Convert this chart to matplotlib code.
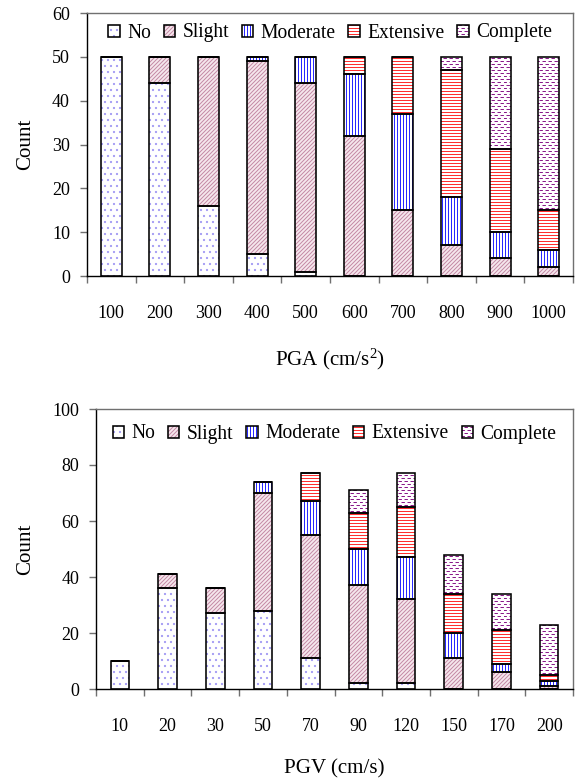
import numpy as np
import matplotlib
matplotlib.use("Agg")
import matplotlib.pyplot as plt
import matplotlib.hatch as mhatch
from matplotlib.path import Path
from matplotlib.legend_handler import HandlerTuple

# ---------------- data ----------------
pga_labels = ['100', '200', '300', '400', '500', '600', '700', '800', '900', '1000']
pga_no = [50, 44, 16, 5, 1, 0, 0, 0, 0, 0]
pga_slight = [0, 6, 34, 44, 43, 32, 15, 7, 4, 2]
pga_moderate = [0, 0, 0, 1, 6, 14, 22, 11, 6, 4]
pga_extensive = [0, 0, 0, 0, 0, 4, 13, 29, 19, 9]
pga_complete = [0, 0, 0, 0, 0, 0, 0, 3, 21, 35]

pgv_labels = ['10', '20', '30', '50', '70', '90', '120', '150', '170', '200']
pgv_no = [10, 36, 27, 28, 11, 2, 2, 0, 0, 0]
pgv_slight = [0, 5, 9, 42, 44, 35, 30, 11, 6, 1]
pgv_moderate = [0, 0, 0, 4, 12, 13, 15, 9, 3, 2]
pgv_extensive = [0, 0, 0, 0, 10, 13, 18, 14, 12, 2]
pgv_complete = [0, 0, 0, 0, 0, 8, 12, 14, 13, 18]

state_names = ['No', 'Slight', 'Moderate', 'Extensive', 'Complete']


# ------------- custom dashed hatch (replaces '*') -------------
class DashHatch(mhatch.HatchPatternBase):
    def __init__(self, hatch, density):
        self.num_rows = int(hatch.count('*') * density)
        self.num_cols = max(self.num_rows // 2, 1) if self.num_rows else 0
        self.num_vertices = self.num_rows * self.num_cols * 2

    def set_vertices_and_codes(self, vertices, codes):
        k = 0
        for i in range(self.num_rows):
            y = (i + 0.5) / self.num_rows
            off = 0.5 if i % 2 else 0.0
            for j in range(self.num_cols):
                x0 = (j + off) / self.num_cols
                x1 = x0 + 0.40 / self.num_cols
                vertices[k] = (x0, y)
                vertices[k + 1] = (x1, y)
                codes[k] = Path.MOVETO
                codes[k + 1] = Path.LINETO
                k += 2


mhatch._hatch_types = [t for t in mhatch._hatch_types if t is not mhatch.Stars] + [DashHatch]

DPI = 72  # 1 pt == 1 px
plt.rcParams['font.family'] = ['Liberation Serif', 'DejaVu Serif']
plt.rcParams['mathtext.fontset'] = 'custom'
plt.rcParams['mathtext.rm'] = 'Liberation Serif'
plt.rcParams['mathtext.it'] = 'Liberation Serif:italic'
plt.rcParams['mathtext.bf'] = 'Liberation Serif:bold'
plt.rcParams['hatch.linewidth'] = 1.0

styles = [
    dict(face='white', hatch='..', hcolor='#a49cf4'),
    dict(face='#f6e8ee', hatch='//////', hcolor='#c48aa6'),
    dict(face='white', hatch='||||', hcolor='#2828ff'),
    dict(face='white', hatch='----', hcolor='#ff3030'),
    dict(face='white', hatch='****', hcolor='#8a1a8a'),
]

EDGE_LW = 1.6
GRAY = '#707070'


def draw_panel(ax, labels, series, width, ymax, ystep, xlabel, leg_y, xlabelpad):
    x = np.arange(len(labels))
    bottom = np.zeros(len(labels))
    handles = []
    for vals, st in zip(series, styles):
        vals = np.asarray(vals, dtype=float)
        fill = ax.bar(x, vals, width, bottom=bottom, color=st['face'],
                      edgecolor=st['hcolor'], hatch=st['hatch'], linewidth=0, zorder=2)
        for p in fill:
            if hasattr(p, 'set_hatchcolor'):
                p.set_hatchcolor(st['hcolor'])
        outline = ax.bar(x, vals, width, bottom=bottom, fill=False,
                         edgecolor='black', linewidth=EDGE_LW, zorder=3)
        handles.append((fill[0], outline[0]))
        bottom = bottom + vals

    ax.set_xlim(-0.5, len(labels) - 0.5)
    ax.set_ylim(0, ymax)
    ax.set_yticks(np.arange(0, ymax + 1, ystep))
    ax.set_xticks(np.arange(len(labels) + 1) - 0.5)
    ax.set_xticklabels([])
    ax.set_xticks(x, minor=True)
    ax.set_xticklabels(labels, minor=True)
    ax.tick_params(axis='x', which='major', direction='out', length=7, width=1.4, color=GRAY)
    ax.tick_params(axis='x', which='minor', length=0, pad=29, labelsize=18)
    ax.tick_params(axis='y', direction='out', length=7, width=1.4, color=GRAY, pad=10, labelsize=18)

    for s in ['top', 'right']:
        ax.spines[s].set_color(GRAY)
        ax.spines[s].set_linewidth(1.4)
    for s in ['left', 'bottom']:
        ax.spines[s].set_color('black')
        ax.spines[s].set_linewidth(1.4)

    ax.set_ylabel('Count', fontsize=21, labelpad=17)
    ax.set_xlabel(xlabel, fontsize=21, labelpad=xlabelpad)

    ax.legend(handles, state_names, handler_map={tuple: HandlerTuple(ndivide=1)},
              loc='center', bbox_to_anchor=(0.5, leg_y), ncol=5, frameon=False,
              fontsize=19.5, handlelength=0.58, handleheight=0.58, handletextpad=0.38,
              columnspacing=0.66, borderaxespad=0, borderpad=0)


fig = plt.figure(figsize=(576 / DPI, 780 / DPI), dpi=DPI)
ax1 = fig.add_axes([87 / 576, 1 - 276 / 780, (573 - 87) / 576, (276 - 13) / 780])
ax2 = fig.add_axes([96 / 576, 1 - 689 / 780, (573 - 96) / 576, (689 - 409) / 780])

draw_panel(ax1, pga_labels,
           [pga_no, pga_slight, pga_moderate, pga_extensive, pga_complete],
           0.43, 60, 10, r'PGA (cm/s$^2$)', 1 - 20 / 263, 25)
draw_panel(ax2, pgv_labels,
           [pgv_no, pgv_slight, pgv_moderate, pgv_extensive, pgv_complete],
           0.39, 100, 20, 'PGV (cm/s)', 1 - 25 / 280, 24)

fig.savefig('out.png', dpi=DPI)
